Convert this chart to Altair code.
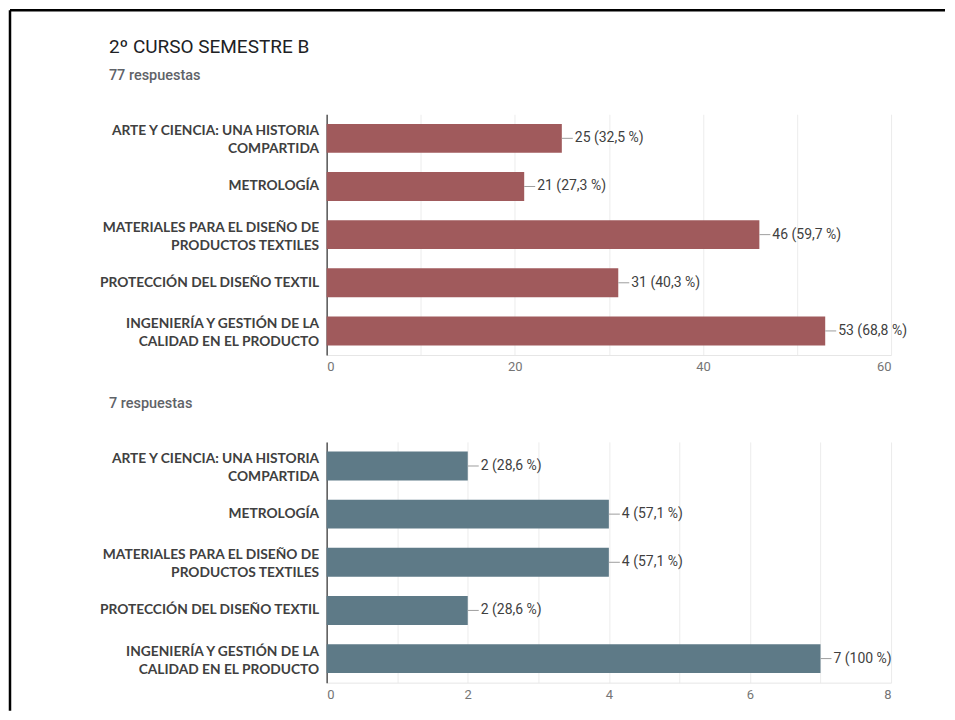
import altair as alt
import pandas as pd

categories = [
    "ARTE Y CIENCIA: UNA HISTORIA|COMPARTIDA",
    "METROLOGÍA ",
    "MATERIALES PARA EL DISEÑO DE |PRODUCTOS TEXTILES ",
    "PROTECCIÓN DEL DISEÑO TEXTIL",
    "INGENIERÍA Y GESTIÓN DE LA|CALIDAD EN EL PRODUCTO",
]
top_counts = [25, 21, 46, 31, 53]
top_pcts = ["32,5", "27,3", "59,7", "40,3", "68,8"]
bottom_counts = [2, 4, 4, 2, 7]
bottom_pcts = ["28,6", "57,1", "57,1", "28,6", "100"]

top_grid = [0, 10, 20, 30, 40, 50, 60]
bottom_grid = [0, 1, 2, 3, 4, 5, 6, 7, 8]

W, H = 565, 241
LABEL_FONT = "Lato"
NUM_FONT = "Roboto"


def make_df(counts, pcts):
    return pd.DataFrame({
        "cat": categories,
        "n": counts,
        "lab": [f"{c} ({p} %)" for c, p in zip(counts, pcts)],
    })


def panel(counts, pcts, color, grid_vals, label_step, dmax, heading=None, sub=""):
    df = make_df(counts, pcts)
    base = alt.Chart(df)
    x = alt.X(
        "n:Q",
        scale=alt.Scale(domain=[0, dmax], nice=False),
        axis=alt.Axis(
            values=grid_vals,
            format="d",
            labelExpr=f"datum.value % {label_step} == 0 ? datum.label : ''",
            title=None,
            ticks=False,
            domain=True,
            domainColor="#e6e6e6",
            gridColor="#ececec",
            labelColor="#757575",
            labelFont=NUM_FONT,
            labelFontSize=13,
            labelPadding=6,
        ),
    )
    y = alt.Y(
        "cat:N",
        sort=categories,
        scale=alt.Scale(paddingInner=0.4, paddingOuter=0.2),
        axis=alt.Axis(
            title=None,
            ticks=False,
            grid=False,
            domainColor="#555555",
            domainWidth=1.5,
            labelExpr="split(datum.label, '|')",
            labelFont=LABEL_FONT,
            labelFontWeight="bold",
            labelFontSize=13.8,
            labelColor="#404040",
            labelLimit=0,
            labelPadding=8,
            labelLineHeight=18,
            labelOffset={"condition": {"test": "indexof(datum.value, '|') >= 0", "value": -7}, "value": 0},
        ),
    )
    bars = base.mark_bar(color=color).encode(x=x, y=y)
    conn = base.mark_rule(color="#9e9e9e", strokeWidth=1, x2Offset=11).encode(
        x="n:Q", x2="n:Q", y=alt.Y("cat:N", sort=categories)
    )
    txt = base.mark_text(
        align="left", baseline="middle", dx=13, font=NUM_FONT, fontSize=14, color="#3f3f3f"
    ).encode(x="n:Q", y=alt.Y("cat:N", sort=categories), text="lab:N")

    one = alt.Chart(pd.DataFrame({"a": [0]}))
    layers = [bars, conn, txt]
    if heading:
        layers.append(
            one.mark_text(align="left", baseline="middle", font=NUM_FONT, fontSize=19, color="#202124")
            .encode(x=alt.value(-218), y=alt.value(-67), text=alt.value(heading))
        )
    layers.append(
        one.mark_text(align="left", baseline="middle", font=NUM_FONT, fontSize=14.5,
                      fontWeight=500, color="#5f6368")
        .encode(x=alt.value(-218), y=alt.value(-38), text=alt.value(sub))
    )
    return layers, one


top_layers, one = panel(top_counts, top_pcts, "#a05a5c", top_grid, 20, 60,
                        heading="2º CURSO SEMESTRE B", sub="77 respuestas")
frame_left = one.mark_rule(color="#000000", strokeWidth=2.5).encode(
    x=alt.value(-317), y=alt.value(-104), y2=alt.value(597)
)
frame_top = one.mark_rule(color="#000000", strokeWidth=2.5).encode(
    x=alt.value(-317), x2=alt.value(619), y=alt.value(-104)
)
top = alt.layer(frame_left, frame_top, *top_layers).properties(width=W, height=H)

bottom_layers, _ = panel(bottom_counts, bottom_pcts, "#5e7a87", bottom_grid, 2, 8,
                         sub="7 respuestas")
bottom = alt.layer(*bottom_layers).properties(width=W, height=H)

chart = (
    alt.vconcat(top, bottom, spacing=87, bounds="flush")
    .properties(padding=0, background="white")
    .configure_view(stroke=None)
)

chart.save("out.html", embed_options={"renderer": "svg", "actions": False})
